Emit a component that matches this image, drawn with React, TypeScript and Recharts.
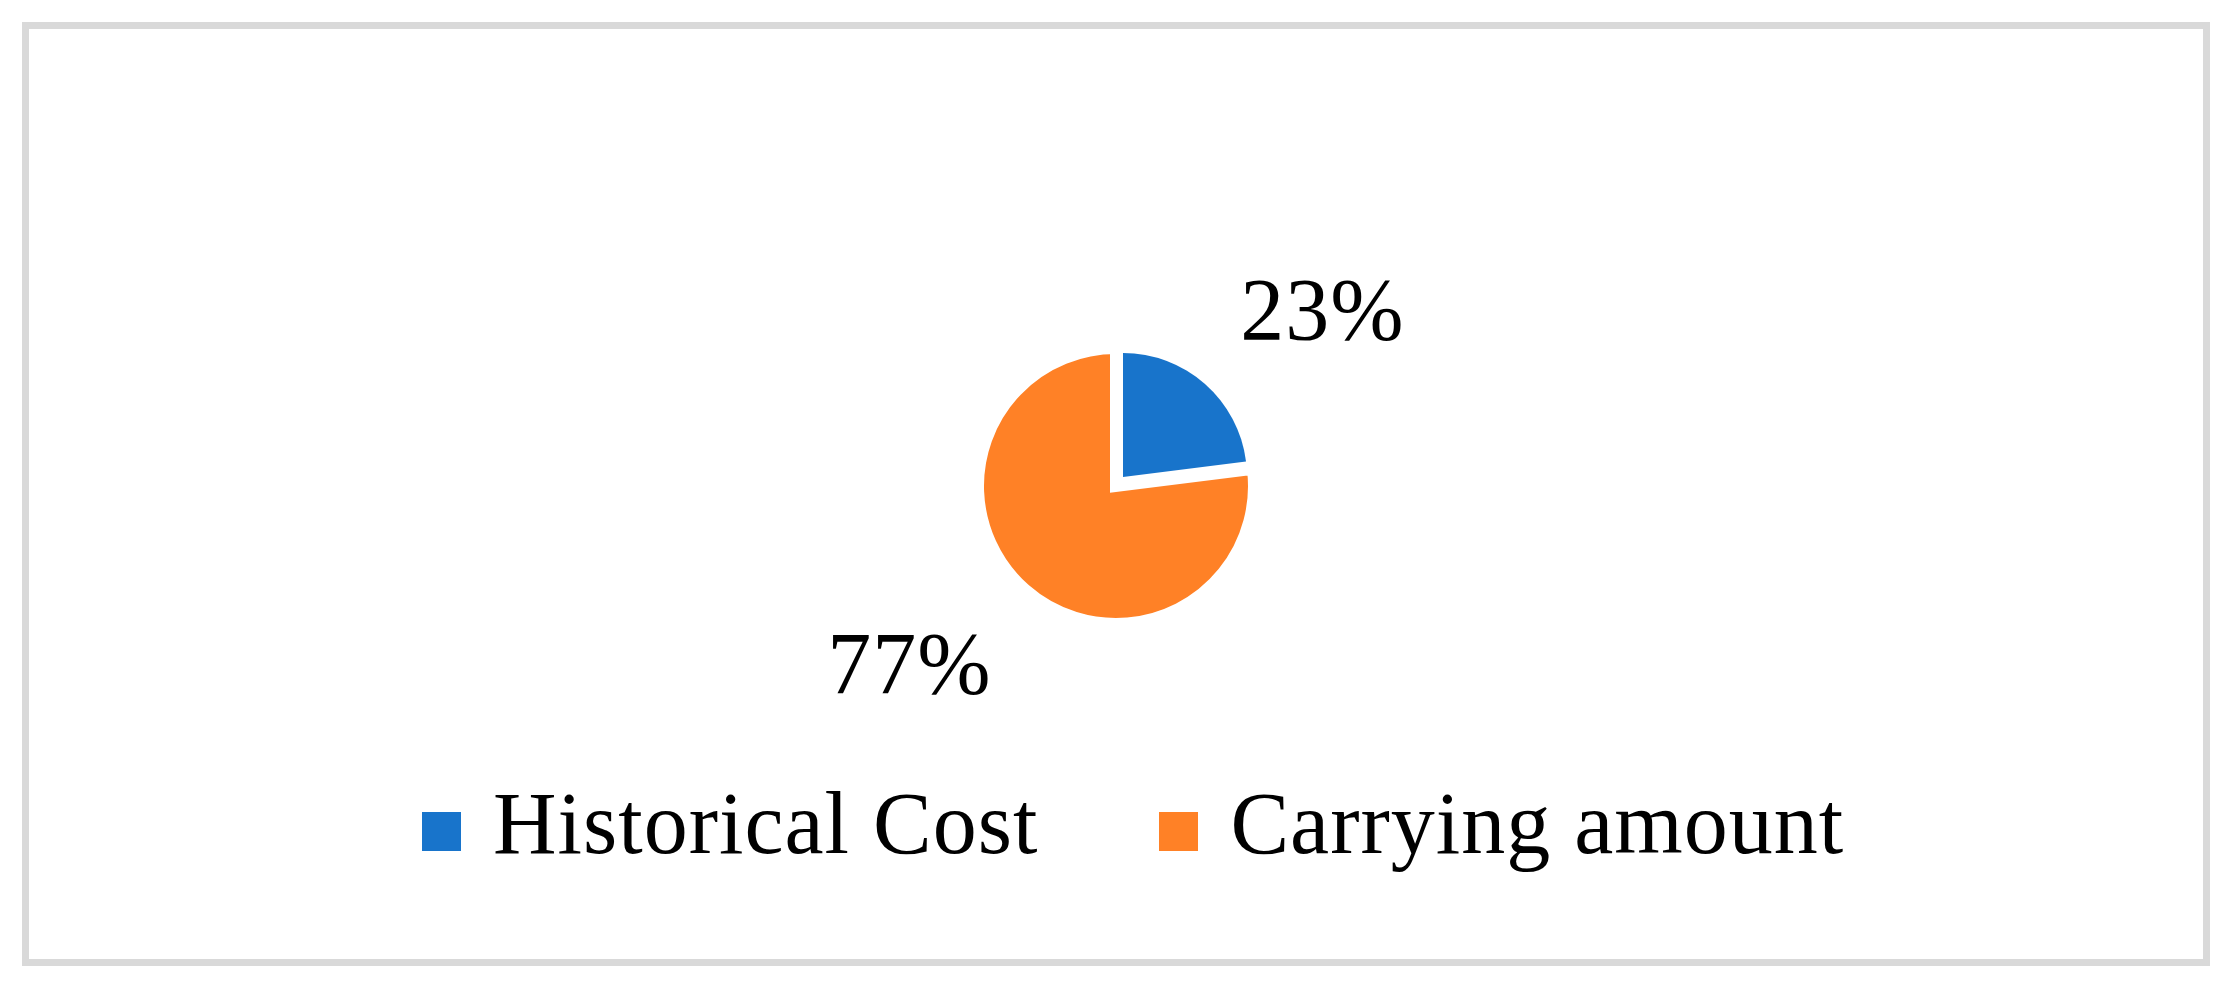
import React from 'react';
import { PieChart, Pie, Cell, Legend } from 'recharts';

const categories = ['Historical Cost', 'Carrying amount'];
const shares = [23, 77];
const COLORS = ['#1874CB', '#FF8126'];

const data = categories.map((name, i) => ({ name, value: shares[i] }));

const FONT = '"Liberation Serif", "Times New Roman", serif';
const RAD = Math.PI / 180;

// percent labels sit outside the pie, a little clockwise of each slice middle
const renderLabel = (props: any) => {
    const { cx, cy, midAngle, percent } = props;
    const r = 272;
    const a = (midAngle - 8) * RAD;
    const x = cx + r * Math.cos(a);
    const y = cy - r * Math.sin(a);
    return (
        <text x={x} y={y} dy={30} textAnchor="middle" fill="#000" fontFamily={FONT} fontSize={88} letterSpacing={1}>
            {`${Math.round(percent * 100)}%`}
        </text>
    );
};

// two pies feed the legend, so build it straight from the category list
const renderLegend = () => (
    <div style={{ display: 'flex', fontFamily: FONT, fontSize: 88, lineHeight: '88px', color: '#000', letterSpacing: 1 }}>
        {categories.map((name, i) => (
            <div key={`leg-${i}`} style={{ display: 'flex', marginRight: 121 }}>
                <div style={{ width: 39, height: 39, marginTop: 32, marginRight: 32, background: COLORS[i] }} />
                <span style={{ whiteSpace: 'nowrap' }}>{name}</span>
            </div>
        ))}
    </div>
);

const App: React.FC = () => {
    return (
        <div style={{ position: 'absolute', left: 0, top: 0, width: 2235, height: 998, background: '#fff' }}>
            <div
                style={{
                    position: 'absolute',
                    left: 22,
                    top: 22,
                    width: 2188,
                    height: 944,
                    boxSizing: 'border-box',
                    border: '7px solid #d9d9d9',
                }}
            />
            <div style={{ position: 'absolute', left: 0, top: 0 }}>
                <PieChart width={2235} height={998} margin={{ top: 0, right: 0, bottom: 0, left: 0 }}>
                    {/* carrying amount, drawn with a white rim so the gap shows */}
                    <Pie
                        data={data}
                        dataKey="value"
                        nameKey="name"
                        cx={1116}
                        cy={486}
                        outerRadius={138}
                        startAngle={90}
                        endAngle={-270}
                        isAnimationActive={false}
                        labelLine={false}
                        label={renderLabel}
                    >
                        {data.map((entry, index) => (
                            <Cell
                                key={`o-${index}`}
                                fill={index === 1 ? COLORS[1] : 'none'}
                                stroke={index === 1 ? '#fff' : 'none'}
                                strokeWidth={12}
                            />
                        ))}
                    </Pie>
                    {/* exploded historical cost slice */}
                    <Pie
                        data={data}
                        dataKey="value"
                        nameKey="name"
                        cx={1123}
                        cy={477}
                        outerRadius={124}
                        startAngle={90}
                        endAngle={-270}
                        isAnimationActive={false}
                        labelLine={false}
                    >
                        {data.map((entry, index) => (
                            <Cell key={`b-${index}`} fill={index === 0 ? COLORS[0] : 'none'} stroke="none" />
                        ))}
                    </Pie>
                    <Legend
                        content={renderLegend}
                        wrapperStyle={{ position: 'absolute', left: 422, top: 780, width: 1700, height: 100 }}
                    />
                </PieChart>
            </div>
        </div>
    );
};

export default App;
